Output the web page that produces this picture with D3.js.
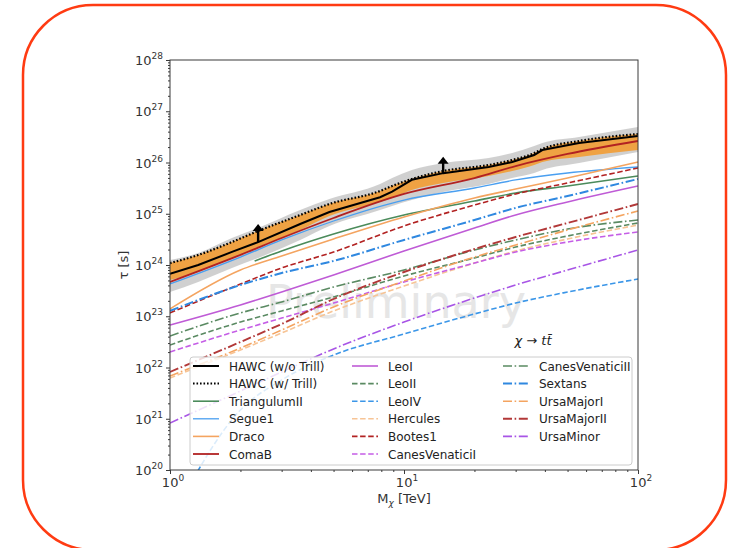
<!DOCTYPE html>
<html>
<head>
<meta charset="utf-8">
<script src="https://cdn.jsdelivr.net/npm/d3@7"></script>
<style>
  body { margin: 0; background: #fff; }
  svg { display: block; font-family: "DejaVu Sans", sans-serif; }
</style>
</head>
<body>
<svg id="chart" width="730" height="548"></svg>
<script>
// ---- data: decay lifetime lower limits tau [s] vs dark-matter mass M [TeV] ----
const massGrid = [1, 2, 3, 5, 10, 20, 30, 50, 100];

const comaB          = [4.66e23, 1.57e24, 3.36e24, 8.26e24, 2.43e25, 4.98e25, 8.54e25, 1.47e26, 2.63e26];
const segue1         = [4.26e23, 1.43e24, 3.08e24, 7.22e24, 1.85e25, 3.18e25, 4.56e25, 6.24e25, 8.17e25];
const draco          = [1.39e23, 7.98e23, 1.50e24, 3.22e24, 8.64e24, 2.03e25, 3.04e25, 4.98e25, 1.02e26];
const bootes1        = [1.16e23, 4.26e23, 8.74e23, 1.79e24, 5.77e24, 1.48e25, 2.43e25, 3.98e25, 7.81e25];
const sextans        = [1.27e23, 4.07e23, 6.98e23, 1.20e24, 3.08e24, 7.55e24, 1.30e25, 2.22e25, 4.76e25];
const leoI           = [6.75e22, 1.66e23, 2.97e23, 6.38e23, 1.88e24, 5.27e24, 9.45e24, 1.70e25, 3.48e25];
const canesVenaticiII= [4.12e22, 1.16e23, 1.90e23, 3.72e23, 7.98e23, 1.96e24, 3.08e24, 5.04e24, 7.55e24];
const leoII          = [2.75e22, 7.72e22, 1.27e23, 2.38e23, 6.10e23, 1.37e24, 2.24e24, 3.68e24, 6.60e24];
const canesVenaticiI = [2.01e22, 5.39e22, 9.24e22, 1.81e23, 4.66e23, 1.09e24, 1.79e24, 2.81e24, 4.41e24];
const ursaMajorII    = [8.17e21, 3.15e22, 7.06e22, 2.17e23, 7.30e23, 2.05e24, 3.52e24, 6.60e24, 1.55e25];
const ursaMajorI     = [6.82e21, 2.40e22, 5.39e22, 1.52e23, 4.87e23, 1.43e24, 2.45e24, 4.82e24, 1.13e25];
const hercules       = [6.24e21, 2.20e22, 4.71e22, 1.27e23, 3.89e23, 1.09e24, 1.88e24, 3.22e24, 6.03e24];
const ursaMinor      = [8.26e20, 3.48e21, 8.17e21, 2.30e22, 7.72e22, 2.27e23, 4.07e23, 7.98e23, 1.96e24];
const leoIV          = [1.0e19, 1.48e21, 5.70e21, 1.75e22, 4.51e22, 1.11e23, 1.81e23, 2.97e23, 5.33e23];

const triangulumIIMass = [2.3, 3, 5, 10, 20, 30, 50, 100];
const triangulumII     = [1.20e24, 1.88e24, 4.03e24, 9.45e24, 1.77e25, 2.54e25, 3.48e25, 5.45e25];

// combined HAWC limits
const hawcMass    = [1, 1.32, 1.84, 2.38, 3.6, 4.8, 7.9, 8.9, 10.8, 14.7, 23, 29, 36, 39, 56, 100];
const hawcNoTrill = [6.7e23, 1.0e24, 1.8e24, 2.8e24, 6.3e24, 1.08e25, 2.1e25, 2.7e25, 4.6e25, 6.2e25, 8.2e25, 1.02e26, 1.4e26, 1.75e26, 2.4e26, 3.3e26];
const hawcTrill   = [1.09e24, 1.57e24, 2.81e24, 4.61e24, 9.45e24, 1.55e25, 2.78e25, 3.48e25, 4.76e25, 6.83e25, 8.94e25, 1.12e26, 1.53e26, 1.83e26, 2.63e26, 3.6e26];
const grayBandHigh = [1.25e24, 1.71e24, 3.36e24, 5.27e24, 1.18e25, 1.94e25, 3.80e25, 4.98e25, 7.14e25, 9.78e25, 1.22e26, 1.53e26, 2.10e26, 2.40e26, 3.14e26, 4.93e26];
const grayBandLow  = [2.97e23, 4.66e23, 8.74e23, 1.37e24, 3.08e24, 5.77e24, 1.18e25, 1.42e25, 1.85e25, 2.66e25, 3.80e25, 4.98e25, 6.24e25, 7.14e25, 9.78e25, 1.60e26];
const orangeBandLow = [5.10e23, 7.30e23, 1.37e24, 2.24e24, 4.82e24, 9.04e24, 1.70e25, 2.03e25, 2.91e25, 3.98e25, 5.45e25, 6.83e25, 8.94e25, 1.02e26, 1.28e26, 1.75e26];

// lower-limit arrows on the HAWC curve
const arrowMass = [2.38, 14.7];
const arrowBase = [2.8e24, 6.2e25];
const arrowTip  = [6.3e24, 1.3e26];

// axis ticks
const yMajor = [1e20, 1e21, 1e22, 1e23, 1e24, 1e25, 1e26, 1e27, 1e28];
const xMajor = [1, 10, 100];

// ---- styles ----
const DASH = "5.5,2.6", DASHDOT = "9,2.6,1.6,2.6", DOT = "1.6,1.9";
const series = [
  { name: "TriangulumII",   m: triangulumIIMass, v: triangulumII,   color: "#4b8b5b", dash: null,    w: 1.6 },
  { name: "Segue1",         m: massGrid, v: segue1,         color: "#4a9ff0", dash: null,    w: 1.3 },
  { name: "Draco",          m: massGrid, v: draco,          color: "#f4a460", dash: null,    w: 1.6 },
  { name: "ComaB",          m: massGrid, v: comaB,          color: "#b22222", dash: null,    w: 1.8 },
  { name: "LeoI",           m: massGrid, v: leoI,           color: "#bf5bd6", dash: null,    w: 1.6 },
  { name: "LeoII",          m: massGrid, v: leoII,          color: "#5a8a62", dash: DASH,    w: 1.6 },
  { name: "LeoIV",          m: massGrid, v: leoIV,          color: "#3b96e8", dash: DASH,    w: 1.6 },
  { name: "Hercules",       m: massGrid, v: hercules,       color: "#f7c495", dash: DASH,    w: 1.6 },
  { name: "Bootes1",        m: massGrid, v: bootes1,        color: "#b22222", dash: DASH,    w: 1.6 },
  { name: "CanesVenaticiI", m: massGrid, v: canesVenaticiI, color: "#c55ee6", dash: DASH,    w: 1.6 },
  { name: "CanesVenaticiII",m: massGrid, v: canesVenaticiII,color: "#5a8a62", dash: DASHDOT, w: 1.6 },
  { name: "Sextans",        m: massGrid, v: sextans,        color: "#2f88e0", dash: DASHDOT, w: 2.0 },
  { name: "UrsaMajorI",     m: massGrid, v: ursaMajorI,     color: "#f4a460", dash: DASHDOT, w: 1.6 },
  { name: "UrsaMajorII",    m: massGrid, v: ursaMajorII,    color: "#b23838", dash: DASHDOT, w: 1.9 },
  { name: "UrsaMinor",      m: massGrid, v: ursaMinor,      color: "#a855e6", dash: DASHDOT, w: 1.6 }
];

// ---- layout ----
const svg = d3.select("#chart");
const X0 = 170, X1 = 638, Y0 = 60, Y1 = 470;
const x = d3.scaleLog().domain([1, 100]).range([X0, X1]);
const y = d3.scaleLog().domain([1e20, 1e28]).range([Y1, Y0]);

// outer rounded frame
svg.append("rect").attr("x", 23).attr("y", 5).attr("width", 703).attr("height", 545)
  .attr("rx", 70).attr("ry", 70).attr("fill", "#fff")
  .attr("stroke", "#ff3b12").attr("stroke-width", 2.5);

svg.append("defs").append("clipPath").attr("id", "plotClip")
  .append("rect").attr("x", X0).attr("y", Y0).attr("width", X1 - X0).attr("height", Y1 - Y0);

const plot = svg.append("g").attr("clip-path", "url(#plotClip)");

// watermark
plot.append("text").attr("x", 396).attr("y", 318).attr("text-anchor", "middle")
  .attr("font-size", 46).attr("fill", "#e6e6e6").text("Preliminary");

const line = (ms, vs) => d3.line().curve(d3.curveMonotoneX)
  .x((d, i) => x(ms[i])).y(d => y(d))(vs);
const area = (ms, lo, hi) => d3.area().curve(d3.curveMonotoneX)
  .x((d, i) => x(ms[i])).y0((d, i) => y(lo[i])).y1((d, i) => y(hi[i]))(lo);

// bands
plot.append("path").attr("d", area(hawcMass, grayBandLow, grayBandHigh)).attr("fill", "#c8c8c8").attr("opacity", 0.85);
plot.append("path").attr("d", area(hawcMass, orangeBandLow, hawcTrill)).attr("fill", "#efa243");

// dwarf galaxy curves
series.forEach(s => {
  plot.append("path").attr("d", line(s.m, s.v)).attr("fill", "none")
    .attr("stroke", s.color).attr("stroke-width", s.w)
    .attr("stroke-dasharray", s.dash);
});

// HAWC combined curves
plot.append("path").attr("d", line(hawcMass, hawcTrill)).attr("fill", "none")
  .attr("stroke", "#000").attr("stroke-width", 2.2).attr("stroke-dasharray", DOT);
plot.append("path").attr("d", d3.line().x((d, i) => x(hawcMass[i])).y(d => y(d))(hawcNoTrill))
  .attr("fill", "none").attr("stroke", "#000").attr("stroke-width", 2);

// arrows
arrowMass.forEach((m, i) => {
  const ax = x(m), yb = y(arrowBase[i]), yt = y(arrowTip[i]);
  plot.append("line").attr("x1", ax).attr("x2", ax).attr("y1", yb).attr("y2", yt + 5)
    .attr("stroke", "#000").attr("stroke-width", 2.4);
  plot.append("path").attr("d", `M${ax},${yt} L${ax - 5.5},${yt + 7} L${ax + 5.5},${yt + 7} Z`).attr("fill", "#000");
});

// ---- axes ----
const axisColor = "#3a3a3a";
const minorY = [];
for (let e = 20; e < 28; e++) for (let k = 2; k <= 9; k++) minorY.push(k * Math.pow(10, e));
const minorX = [];
for (let e = 0; e < 2; e++) for (let k = 2; k <= 9; k++) minorX.push(k * Math.pow(10, e));

function styleAxis(g) {
  g.select(".domain").remove();
  g.selectAll("line").attr("stroke", axisColor);
}

const gy = svg.append("g").attr("transform", `translate(${X0},0)`)
  .call(d3.axisLeft(y).tickValues(yMajor).tickSize(4).tickFormat(""));
styleAxis(gy);
const gyMinor = svg.append("g").attr("transform", `translate(${X0},0)`)
  .call(d3.axisLeft(y).tickValues(minorY).tickSize(2).tickFormat(""));
styleAxis(gyMinor);

const gx = svg.append("g").attr("transform", `translate(0,${Y1})`)
  .call(d3.axisBottom(x).tickValues(xMajor).tickSize(4).tickFormat(""));
styleAxis(gx);
const gxMinor = svg.append("g").attr("transform", `translate(0,${Y1})`)
  .call(d3.axisBottom(x).tickValues(minorX).tickSize(2).tickFormat(""));
styleAxis(gxMinor);

// frame
svg.append("rect").attr("x", X0).attr("y", Y0).attr("width", X1 - X0).attr("height", Y1 - Y0)
  .attr("fill", "none").attr("stroke", axisColor).attr("stroke-width", 1);

// power-of-ten labels
yMajor.forEach(v => {
  const t = svg.append("text").attr("x", X0 - 7).attr("y", y(v) + 5)
    .attr("text-anchor", "end").attr("font-size", 13).attr("fill", "#333");
  t.append("tspan").text("10");
  t.append("tspan").attr("font-size", 9).attr("dy", -6).text(Math.round(Math.log10(v)));
});
xMajor.forEach(v => {
  const t = svg.append("text").attr("x", x(v) + 3).attr("y", Y1 + 17)
    .attr("text-anchor", "middle").attr("font-size", 13).attr("fill", "#333");
  t.append("tspan").text("10");
  t.append("tspan").attr("font-size", 9).attr("dy", -6).text(Math.round(Math.log10(v)));
});

// axis titles
const xt = svg.append("text").attr("x", (X0 + X1) / 2).attr("y", Y1 + 33)
  .attr("text-anchor", "middle").attr("font-size", 13).attr("fill", "#333");
xt.append("tspan").text("M");
xt.append("tspan").attr("font-size", 9).attr("dy", 3).attr("font-style", "italic").text("χ");
xt.append("tspan").attr("dy", -3).text(" [TeV]");

svg.append("text").attr("transform", `translate(128,${(Y0 + Y1) / 2}) rotate(-90)`)
  .attr("text-anchor", "middle").attr("font-size", 13).attr("fill", "#333").text("τ [s]");

// channel annotation
const ch = svg.append("text").attr("x", 533).attr("y", 345).attr("text-anchor", "middle")
  .attr("font-size", 13).attr("fill", "#222");
ch.append("tspan").attr("font-style", "italic").text("χ");
ch.append("tspan").text(" → ");
ch.append("tspan").attr("font-style", "italic").text("tt\u0304");

// ---- legend ----
const legendItems = [
  { name: "HAWC (w/o Trill)", color: "#000", dash: null, w: 2 },
  { name: "HAWC (w/ Trill)",  color: "#000", dash: DOT,  w: 2 }
].concat(series);
const lg = svg.append("g");
lg.append("rect").attr("x", 190).attr("y", 357).attr("width", 442).attr("height", 108)
  .attr("rx", 3).attr("fill", "#fff").attr("fill-opacity", 0.82)
  .attr("stroke", "#cccccc").attr("stroke-width", 1);
const colX = [193, 352, 503];
legendItems.forEach((d, i) => {
  const c = Math.floor(i / 6), r = i % 6;
  const ly = 366 + r * 17.6;
  lg.append("line").attr("x1", colX[c]).attr("x2", colX[c] + 26).attr("y1", ly).attr("y2", ly)
    .attr("stroke", d.color).attr("stroke-width", d.w).attr("stroke-dasharray", d.dash);
  lg.append("text").attr("x", colX[c] + 36).attr("y", ly + 4.5).attr("font-size", 12)
    .attr("fill", "#222").text(d.name);
});
</script>
</body>
</html>
